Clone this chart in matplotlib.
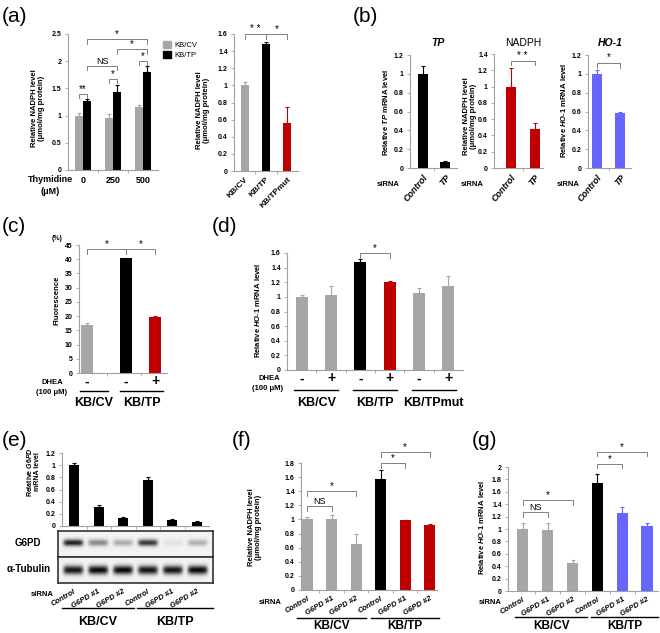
import matplotlib
matplotlib.use('Agg')
import matplotlib.pyplot as plt
import numpy as np
from matplotlib.patches import Patch
from matplotlib.transforms import blended_transform_factory

plt.rcParams['font.family'] = ['Liberation Sans', 'DejaVu Sans']
plt.rcParams['mathtext.fontset'] = 'custom'
plt.rcParams['mathtext.it'] = 'Liberation Sans:italic:bold'
plt.rcParams['mathtext.rm'] = 'Liberation Sans:bold'

# ---- data ----
thymidine = ['0', '250', '500']
a_cv = [1.0, 0.95, 1.15]
a_cv_err = [0.05, 0.08, 0.05]
a_tp = [1.27, 1.44, 1.80]
a_tp_err = [0.04, 0.13, 0.12]

a2_cells = ['KB/CV', 'KB/TP', 'KB/TPmut']
a2_vals = [1.0, 1.48, 0.56]
a2_err = [0.04, 0.03, 0.19]

b_sirna = ['Control', 'TP']
b_tp = [1.0, 0.06]
b_tp_err = [0.08, 0.01]
b_nadph = [1.0, 0.48]
b_nadph_err = [0.23, 0.07]
b_ho1 = [1.0, 0.58]
b_ho1_err = [0.04, 0.01]

c_dhea = ['-', '-', '+']
c_vals = [17.0, 40.3, 19.7]
c_err = [0.5, 0.2, 0.3]

d_dhea = ['-', '+', '-', '+', '-', '+']
d_groups = ['KB/CV', 'KB/TP', 'KB/TPmut']
d_vals = [1.0, 1.02, 1.48, 1.20, 1.05, 1.15]
d_err = [0.02, 0.13, 0.04, 0.02, 0.07, 0.13]

sirna = ['Control', 'G6PD #1', 'G6PD #2'] * 2
cell_groups = ['KB/CV', 'KB/TP']
e_vals = [1.0, 0.32, 0.13, 0.76, 0.10, 0.07]
e_err = [0.03, 0.02, 0.01, 0.04, 0.01, 0.005]
g6pd_band = [0.9, 0.45, 0.3, 0.8, 0.07, 0.28]
tub_band = [0.95, 1.0, 1.0, 0.95, 0.95, 1.0]

f_vals = [1.0, 1.01, 0.65, 1.58, 0.99, 0.92]
f_err = [0.03, 0.05, 0.15, 0.12, 0.005, 0.02]
g_vals = [1.0, 0.99, 0.45, 1.74, 1.26, 1.05]
g_err = [0.09, 0.11, 0.05, 0.15, 0.10, 0.04]

GRAY = '#a6a6a6'
RED = '#c00000'
BLUE = '#6666ff'
BLK = '#000000'
BR = '#808080'

W, H = 660, 633
fig = plt.figure(figsize=(6.6, 6.33), dpi=100)


def box(l, t, r, b):
    return fig.add_axes([l / W, 1 - b / H, (r - l) / W, (b - t) / H])


def ftext(x, y, s, **kw):
    kw.setdefault('ha', 'center')
    kw.setdefault('va', 'center')
    fig.text(x / W, 1 - y / H, s, **kw)


def frame(ax, ymax, step, xlim, n):
    ax.set_xlim(*xlim)
    ax.set_ylim(0, ymax)
    ticks = np.round(np.arange(0, ymax + step / 2, step), 2)
    ax.set_yticks(ticks)
    ax.set_yticklabels(['%g' % t for t in ticks], fontsize=5, fontweight='bold')
    ax.set_xticks(np.arange(n - 1) + 0.5, minor=True)
    for s in ['top', 'right']:
        ax.spines[s].set_visible(False)
    for s in ['left', 'bottom']:
        ax.spines[s].set_color('#a0a0a0')
        ax.spines[s].set_linewidth(0.8)
    ax.tick_params(axis='y', length=2.5, width=0.6, color='#a0a0a0', pad=2)
    ax.tick_params(axis='x', which='major', length=0)
    ax.tick_params(axis='x', which='minor', length=2.5, width=0.6, color='#a0a0a0')
    ax.set_facecolor('none')


def bars(ax, x, vals, errs, colors, width):
    for xi, v, e, c in zip(x, vals, errs, colors):
        ax.bar(xi, v, width, color=c, zorder=2)
        ax.errorbar(xi, v, yerr=[[0], [e]], fmt='none', ecolor=c, elinewidth=0.8,
                    capsize=1.5, capthick=0.8, zorder=2)


def sig(ax, x1, x2, y, drop, txt, fs=7):
    ax.plot([x1, x1, x2, x2], [y - drop, y, y, y - drop], color=BR, lw=0.7, clip_on=False)
    ax.text((x1 + x2) / 2, y, txt, ha='center', va='bottom', fontsize=fs, clip_on=False)


def group(ax, x1, x2, yline, label, ylab, fs=9):
    tr = blended_transform_factory(ax.transData, fig.transFigure)
    ax.plot([x1, x2], [1 - yline / H] * 2, transform=tr, color='black', lw=1.0, clip_on=False)
    ax.text((x1 + x2) / 2, 1 - ylab / H, label, transform=tr, ha='center', va='center',
            fontsize=fs, fontweight='bold')


def rot_labels(ax, labels, angle, fs, italic=True):
    ax.set_xticks(range(len(labels)))
    ax.set_xticklabels(labels, rotation=angle, ha='right', rotation_mode='anchor',
                       fontsize=fs, fontweight='bold', fontstyle='italic' if italic else 'normal')


ylab_kw = dict(rotation=90, fontsize=5.5, fontweight='bold', linespacing=1.15)

# ---- (a) left ----
ftext(2, 17, '(a)', fontsize=15, ha='left')
ax = box(68, 34, 158, 170)
frame(ax, 2.5, 0.5, (-0.5, 2.5), 3)
x = np.arange(3)
bars(ax, x - 0.14, a_cv, a_cv_err, [GRAY] * 3, 0.27)
bars(ax, x + 0.14, a_tp, a_tp_err, [BLK] * 3, 0.27)
ax.set_xticks(x)
ax.set_xticklabels(thymidine, fontsize=6.5, fontweight='bold')
ax.tick_params(axis='x', pad=4)
sig(ax, -0.14, 0.14, 1.40, 0.07, '**')
sig(ax, 0.86, 1.14, 1.67, 0.07, '*')
sig(ax, 0.14, 1.14, 1.91, 0.08, 'NS', fs=6.5)
sig(ax, 1.86, 2.14, 2.0, 0.07, '*')
sig(ax, 1.14, 2.14, 2.22, 0.08, '*')
sig(ax, 0.14, 2.14, 2.40, 0.08, '*')
ax.legend(handles=[Patch(color=GRAY, label='KB/CV'), Patch(color=BLK, label='KB/TP')],
          loc='upper left', bbox_to_anchor=(1.0, 0.98), frameon=False, fontsize=5.5,
          handlelength=1.1, handleheight=1.0, handletextpad=0.5, labelspacing=0.2,
          borderaxespad=0.2)
ftext(38, 108, 'Relative NADPH level\n(μmol/mg protein)', **ylab_kw)
ftext(50, 179, 'Thymidine', fontsize=6.5, fontweight='bold')
ftext(50, 192, '(μM)', fontsize=6.5, fontweight='bold')

# ---- (a) right ----
ax = box(234, 34, 298, 171)
frame(ax, 1.6, 0.2, (-0.5, 2.5), 3)
bars(ax, range(3), a2_vals, a2_err, [GRAY, BLK, RED], 0.38)
rot_labels(ax, a2_cells, 45, 6, italic=False)
sig(ax, 0, 1, 1.6, 0.06, '* *')
sig(ax, 1, 2, 1.6, 0.06, '*')
ftext(203, 110, 'Relative NADPH level\n(μmol/mg protein)', **ylab_kw)

# ---- (b) ----
ftext(353, 17, '(b)', fontsize=15, ha='left')
ax = box(410, 55, 457, 168)
frame(ax, 1.2, 0.2, (-0.6, 1.55), 2)
bars(ax, range(2), b_tp, b_tp_err, [BLK, BLK], 0.45)
rot_labels(ax, b_sirna, 50, 6.5)
ftext(438, 43, 'TP', fontsize=7.5, fontstyle='italic', fontweight='bold')
ftext(385, 112, 'Relative $TP$ mRNA level', **ylab_kw)
ftext(388, 185, 'siRNA', fontsize=5.5, fontweight='bold')

ax = box(494, 54, 543, 168)
frame(ax, 1.4, 0.2, (-0.7, 1.35), 2)
bars(ax, range(2), b_nadph, b_nadph_err, [RED, RED], 0.42)
rot_labels(ax, b_sirna, 50, 6.5)
sig(ax, 0, 1, 1.32, 0.06, '* *')
ftext(523, 43, 'NADPH', fontsize=7.5)
ftext(470, 116, 'Relative NADPH level\n(μmol/mg protein)', **ylab_kw)
ftext(472, 185, 'siRNA', fontsize=5.5, fontweight='bold')

ax = box(588, 55, 631, 168)
frame(ax, 1.2, 0.2, (-0.4, 1.48), 2)
bars(ax, range(2), b_ho1, b_ho1_err, [BLUE, BLUE], 0.43)
rot_labels(ax, b_sirna, 50, 6.5)
sig(ax, 0, 1, 1.12, 0.06, '*')
ftext(610, 43, 'HO-1', fontsize=7.5, fontstyle='italic', fontweight='bold')
ftext(563, 110, 'Relative $HO$-$1$ mRNA level', **ylab_kw)
ftext(568, 185, 'siRNA', fontsize=5.5, fontweight='bold')

# ---- (c) ----
ftext(2, 226, '(c)', fontsize=15, ha='left')
ax = box(79, 245, 167, 373)
cx = [0, 1.35, 2.35]
frame(ax, 45, 5, (-0.28, 2.76), 1)
ax.set_xticks([0.68, 1.85], minor=True)
bars(ax, cx, c_vals, c_err, [GRAY, BLK, RED], 0.42)
ax.set_xticks(cx)
ax.set_xticklabels(c_dhea, fontsize=10, fontweight='bold')
ax.tick_params(axis='x', pad=1)
sig(ax, cx[0], cx[1], 43.5, 1.8, '*')
sig(ax, cx[1], cx[2], 43.5, 1.8, '*')
ftext(57, 238, '(%)', fontsize=5, fontweight='bold')
ftext(57, 300, 'Fluorescence', **ylab_kw)
ftext(52, 383, 'DHEA', fontsize=5.5, fontweight='bold')
ftext(52, 393, '(100 μM)', fontsize=5.5, fontweight='bold')
group(ax, -0.24, 0.72, 391, cell_groups[0], 403)
group(ax, 1.14, 2.62, 391, cell_groups[1], 403)

# ---- (d) ----
ftext(212, 226, '(d)', fontsize=15, ha='left')
ax = box(287, 253, 463, 370)
frame(ax, 1.6, 0.2, (-0.5, 5.5), 6)
bars(ax, range(6), d_vals, d_err, [GRAY, GRAY, BLK, RED, GRAY, GRAY], 0.42)
ax.set_xticks(range(6))
ax.set_xticklabels(d_dhea, fontsize=10, fontweight='bold')
ax.tick_params(axis='x', pad=1)
sig(ax, 2, 3, 1.6, 0.07, '*')
ftext(257, 310, 'Relative $HO$-$1$ mRNA level', **ylab_kw)
ftext(269, 378, 'DHEA', fontsize=5.5, fontweight='bold')
ftext(268, 388, '(100 μM)', fontsize=5.5, fontweight='bold')
for i, gname in enumerate(d_groups):
    group(ax, 2 * i - 0.25, 2 * i + 1.25, 390, gname, 403)

# ---- (e) ----
ftext(2, 440, '(e)', fontsize=15, ha='left')
ax = box(62, 453, 209, 526)
frame(ax, 1.2, 0.2, (-0.5, 5.5), 6)
bars(ax, range(6), e_vals, e_err, [BLK] * 6, 0.4)
ax.set_xticks([])
ftext(33, 472, 'Relative $G6PD$\nmRNA level', rotation=90, fontsize=5,
      fontweight='bold', linespacing=1.1)

blot_xlim = (-0.61, 5.65)


def blot(ax, levels, yc, sd):
    xs = np.linspace(blot_xlim[0], blot_xlim[1], 500)
    ys = np.linspace(0, 1, 80)
    X, Y = np.meshgrid(xs, ys)
    dark = np.zeros_like(X)
    for i, lv in enumerate(levels):
        dark += lv * np.exp(-((X - i) / 0.4) ** 6) * np.exp(-((Y - yc) / sd) ** 2)
    img = 0.95 - 0.92 * np.clip(dark, 0, 1)
    ax.imshow(img, cmap='gray', vmin=0, vmax=1, aspect='auto', origin='lower',
              extent=[blot_xlim[0], blot_xlim[1], 0, 1])
    ax.set_xlim(*blot_xlim)
    ax.set_ylim(0, 1)
    ax.set_yticks([])
    ax.tick_params(axis='x', length=0)
    for s in ax.spines.values():
        s.set_linewidth(1.2)
        s.set_color('#333333')


axb = box(58, 531, 213, 557)
blot(axb, g6pd_band, 0.55, 0.13)
axb.set_xticks([])
axt = box(58, 557, 213, 583)
blot(axt, tub_band, 0.5, 0.17)
rot_labels(axt, sirna, 30, 5.5)
ftext(28, 543, 'G6PD', fontsize=7, fontweight='bold')
ftext(29, 569, 'α-Tubulin', fontsize=7, fontweight='bold')
ftext(42, 594, 'siRNA', fontsize=5.5, fontweight='bold')
group(axt, -0.45, 2.45, 608, cell_groups[0], 622)
group(axt, 2.6, 5.65, 608, cell_groups[1], 622)

# ---- (f) ----
ftext(232, 440, '(f)', fontsize=15, ha='left')
ax = box(301, 463, 437, 590)
frame(ax, 1.8, 0.2, (-0.25, 5.3), 6)
bars(ax, range(6), f_vals, f_err, [GRAY, GRAY, GRAY, BLK, RED, RED], 0.45)
rot_labels(ax, sirna, 30, 5.5)
sig(ax, 0, 1, 1.19, 0.07, 'NS', fs=6.5)
sig(ax, 0, 2, 1.40, 0.07, '*')
sig(ax, 3, 4, 1.80, 0.07, '*')
sig(ax, 3, 5, 1.95, 0.07, '*')
ftext(255, 527, 'Relative NADPH level\n(μmol/mg protein)', **ylab_kw)
ftext(270, 603, 'siRNA', fontsize=5.5, fontweight='bold')
group(ax, -0.4, 2.4, 618, cell_groups[0], 626, fs=8.5)
group(ax, 2.6, 5.4, 618, cell_groups[1], 626, fs=8.5)

# ---- (g) ----
ftext(472, 440, '(g)', fontsize=15, ha='left')
ax = box(508, 467, 658, 591)
frame(ax, 2.0, 0.2, (-0.6, 5.44), 6)
bars(ax, range(6), g_vals, g_err, [GRAY, GRAY, GRAY, BLK, BLUE, BLUE], 0.45)
rot_labels(ax, sirna, 30, 5.5)
sig(ax, 0, 1, 1.27, 0.07, 'NS', fs=6.5)
sig(ax, 0, 2, 1.46, 0.07, '*')
sig(ax, 3, 4, 2.05, 0.07, '*')
sig(ax, 3, 5, 2.24, 0.07, '*')
ftext(482, 527, 'Relative $HO$-$1$ mRNA level', **ylab_kw)
ftext(490, 603, 'siRNA', fontsize=5.5, fontweight='bold')
group(ax, -0.3, 2.6, 617, cell_groups[0], 626, fs=8.5)
group(ax, 2.75, 5.45, 617, cell_groups[1], 626, fs=8.5)

fig.savefig('out.png', dpi=100)
